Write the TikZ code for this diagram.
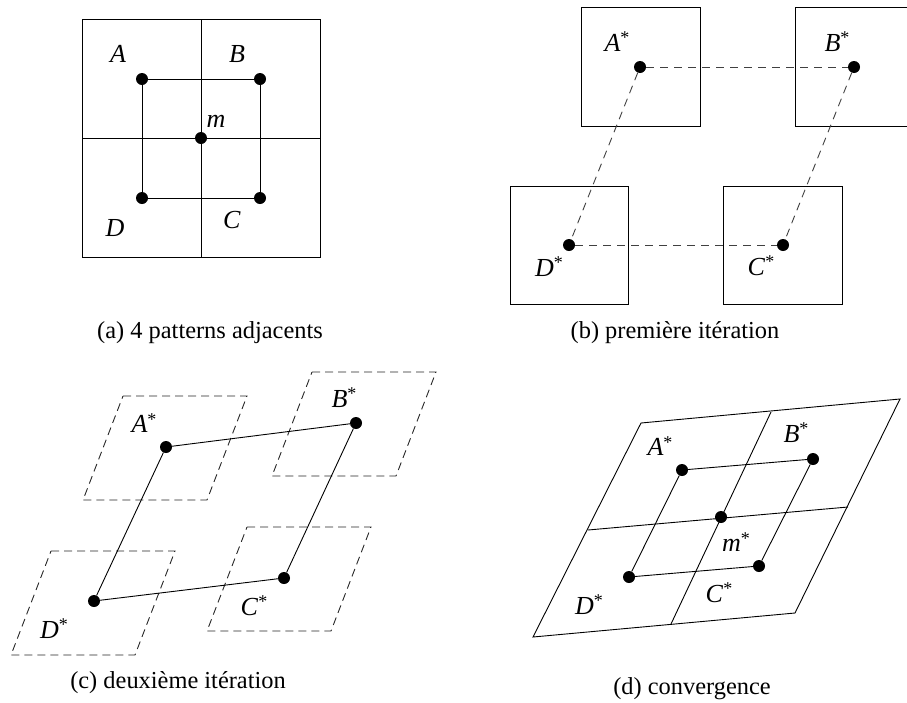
\documentclass[tikz,border=0pt]{standalone}
\usepackage{fontspec}
\setmainfont{Liberation Serif}
\newcommand{\lab}[1]{\textit{#1}}
\newcommand{\slab}[1]{\textit{#1}\raisebox{0.3em}{\fontsize{18}{18}\selectfont *}}
\begin{document}
\begin{tikzpicture}[x=1pt,y=-1pt,
  dot/.style={circle,fill=black,inner sep=0pt,minimum size=12pt},
  lbl/.style={inner sep=0pt,font=\fontsize{26}{30}\selectfont},
  captxt/.style={inner sep=0pt,anchor=base,font=\fontsize{24.4}{28}\selectfont},
  seg/.style={line width=0.9pt},
  dline/.style={line width=0.9pt,black!75,dash pattern=on 8pt off 6pt},
  pbox/.style={line width=0.9pt,black!85,dash pattern=on 8pt off 5pt}]
\useasboundingbox (0,0) rectangle (907,702);
\clip (0,0) rectangle (907,702);
% ---------- (a)
\draw[seg] (82,19) rectangle (320,257);
\draw[seg] (201,19) -- (201,257);
\draw[seg] (82,138) -- (320,138);
\node[dot] (a1) at (142,79) {};
\node[dot] (b1) at (260,79) {};
\node[dot] (c1) at (260,198) {};
\node[dot] (d1) at (142,198) {};
\node[dot] (m1) at (201,138) {};
\draw[seg] (a1) -- (b1) -- (c1) -- (d1) -- (a1);
\node[lbl] (la1) at (118,54) {\lab{A}};
\node[lbl] (lb1) at (237,54) {\lab{B}};
\node[lbl] (lm1) at (216,121) {\lab{m}};
\node[lbl] (ld1) at (115,228) {\lab{D}};
\node[lbl] (lc1) at (232,220) {\lab{C}};
\node[captxt] (capa) at (210,338) {(a) 4 patterns adjacents};
% ---------- (b)
\draw[seg] (581,7) rectangle (700,126);
\draw[seg] (795,7) rectangle (914,126);
\draw[seg] (510,186) rectangle (628,304);
\draw[seg] (723,186) rectangle (842,304);
\node[dot] (a2) at (640,67) {};
\node[dot] (b2) at (854,67) {};
\node[dot] (c2) at (783,245) {};
\node[dot] (d2) at (569,245) {};
\draw[dline] (a2) -- (b2);
\draw[dline] (d2) -- (c2);
\draw[dline] (a2) -- (d2);
\draw[dline] (b2) -- (c2);
\node[lbl] (la2) at (617,42) {\slab{A}};
\node[lbl] (lb2) at (837,42) {\slab{B}};
\node[lbl] (ld2) at (549,267) {\slab{D}};
\node[lbl] (lc2) at (761,266) {\slab{C}};
\node[captxt] (capb) at (675,338) {(b) première itération};
% ---------- (c)
\draw[pbox] (123,396) -- ++(124,0) -- ++(-40,104) -- ++(-124,0) -- cycle;
\draw[pbox] (312,372) -- ++(124,0) -- ++(-40,104) -- ++(-124,0) -- cycle;
\draw[pbox] (51,551) -- ++(124,0) -- ++(-40,104) -- ++(-124,0) -- cycle;
\draw[pbox] (247,527) -- ++(124,0) -- ++(-40,104) -- ++(-124,0) -- cycle;
\node[dot] (a3) at (166,447) {};
\node[dot] (b3) at (356,423) {};
\node[dot] (c3) at (284,578) {};
\node[dot] (d3) at (94,601) {};
\draw[seg] (a3) -- (b3) -- (c3) -- (d3) -- (a3);
\node[lbl] (la3) at (144,423) {\slab{A}};
\node[lbl] (lb3) at (344,398) {\slab{B}};
\node[lbl] (lc3) at (254,606) {\slab{C}};
\node[lbl] (ld3) at (54,629) {\slab{D}};
\node[captxt] (capc) at (178,688) {(c) deuxième itération};
% ---------- (d)
\draw[seg] (641,423) -- (900,399) -- (795,613) -- (533,637) -- cycle;
\draw[seg] (771,412) -- (671,624);
\draw[seg] (588,530) -- (848,507);
\node[dot] (a4) at (682,470) {};
\node[dot] (b4) at (813,459) {};
\node[dot] (m4) at (721,517) {};
\node[dot] (c4) at (759,566) {};
\node[dot] (d4) at (629,577) {};
\draw[seg] (a4) -- (b4) -- (c4) -- (d4) -- (a4);
\node[lbl] (la4) at (660,446) {\slab{A}};
\node[lbl] (lb4) at (796,433) {\slab{B}};
\node[lbl] (lm4) at (736,542) {\slab{m}};
\node[lbl] (lc4) at (719,593) {\slab{C}};
\node[lbl] (ld4) at (589,605) {\slab{D}};
\node[captxt] (capd) at (692,694) {(d) convergence};
\end{tikzpicture}
\end{document}
